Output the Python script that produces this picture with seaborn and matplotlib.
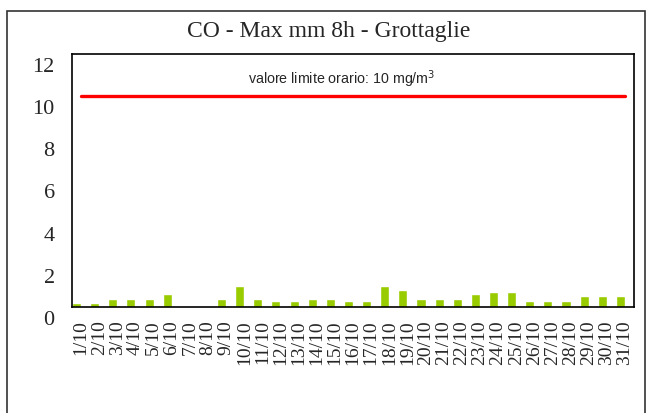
import numpy as np
import pandas as pd
import matplotlib
matplotlib.use("Agg")
import matplotlib.pyplot as plt
import matplotlib.transforms as mtransforms
from matplotlib.patches import Rectangle
from matplotlib.ticker import FixedLocator
import seaborn as sns

# dati
days = [f"{d}/10" for d in range(1, 32)]
co_values = [0.2, 0.2, 0.4, 0.4, 0.4, 0.6, 0.0, 0.0, 0.4, 1.0,
             0.4, 0.3, 0.3, 0.4, 0.4, 0.3, 0.3, 1.0, 0.8, 0.4,
             0.4, 0.4, 0.6, 0.7, 0.7, 0.3, 0.3, 0.3, 0.5, 0.5, 0.5]
limit_value = [10] * len(days)
y_ticks = [0, 2, 4, 6, 8, 10, 12]
series = ["CO", "vuota"]   # la seconda serie e' vuota (barre spostate a sinistra come in Excel)

title = "CO - Max mm 8h - Grottaglie"
limit_label = "valore limite orario: 10 mg/m$^3$"

sns.set_style("white")
serif = ["Liberation Serif", "DejaVu Serif"]
plt.rcParams["font.family"] = serif

df = pd.DataFrame({"giorno": days, "co": co_values, "serie": series[0]})

fig = plt.figure(figsize=(6.5, 4.14), dpi=100)
ax = fig.add_axes([72 / 650, 1 - 308 / 414, (634 - 72) / 650, (308 - 55) / 414])

sns.barplot(data=df, x="giorno", y="co", hue="serie", hue_order=series,
            palette=["#99CC00", "#99CC00"], width=1.0, dodge=True,
            saturation=1, legend=False, ax=ax)
sns.lineplot(x=np.arange(len(days)), y=limit_value, color="red",
             linewidth=2.4, ax=ax)

ax.set_xlim(-0.5, len(days) - 0.5)
ax.set_ylim(0, 12)
ax.set_yticks(y_ticks)
ax.set_yticklabels([str(t) for t in y_ticks], fontsize=16)
ax.set_xlabel("")
ax.set_ylabel("")

# tick x tra le categorie
ax.xaxis.set_minor_locator(FixedLocator(np.arange(-0.5, len(days), 1.0)))
ax.tick_params(axis="x", which="major", length=0, pad=9, labelsize=14,
               labelrotation=90)
ax.tick_params(axis="x", which="minor", length=6, width=1, color="black",
               direction="out")
ax.tick_params(axis="y", length=6, width=1, color="black", direction="out",
               pad=6.5)

# etichette y spostate in basso come nell'originale
offset = mtransforms.ScaledTranslation(0, -10 / 100, fig.dpi_scale_trans)
for lbl in ax.get_yticklabels():
    lbl.set_transform(lbl.get_transform() + offset)

for side in ["left", "right", "top", "bottom"]:
    ax.spines[side].set_visible(True)
    ax.spines[side].set_color("black")
    ax.spines[side].set_linewidth(1.2)

ax.text(14.4, 10.85, limit_label, ha="center", va="center", fontsize=10.3,
        family=["Liberation Sans Narrow", "Liberation Sans", "DejaVu Sans"])

fig.text(0.505, 1 - 32 / 414, title, ha="center", va="center", fontsize=17,
         family=serif)

# cornice esterna
fig.add_artist(Rectangle((7 / 650, -0.05), (645 - 7) / 650, 1 - 12 / 414 + 0.05,
                         transform=fig.transFigure, fill=False,
                         edgecolor="#333333", linewidth=1.2))

fig.savefig("out.png", dpi=100)
